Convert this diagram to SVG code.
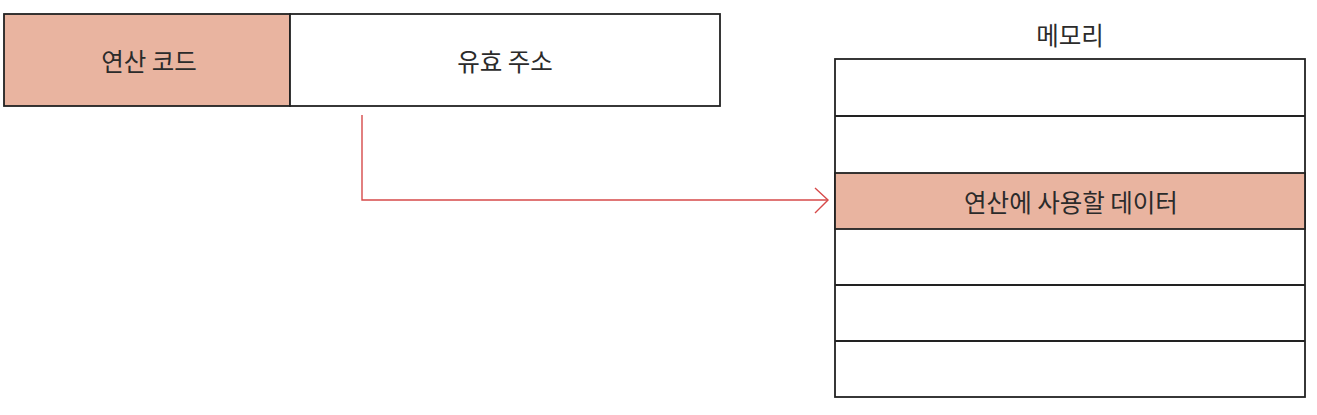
<svg xmlns="http://www.w3.org/2000/svg" width="1317" height="415" viewBox="0 0 1317 415">
<style>
.box{fill:#ffffff;stroke:#222222;stroke-width:1.8}
.hl{fill:#e9b4a0;stroke:#222222;stroke-width:1.8}
.line{stroke:#222222;stroke-width:1.8;fill:none}
.lbl{font-family:"Noto Sans CJK KR","Noto Sans",sans-serif;font-size:24.5px;fill:#2b2b2b;text-anchor:middle;dominant-baseline:central}
.conn{stroke:#d64a4a;stroke-width:1.4;fill:none}
</style>
<rect width="1317" height="415" fill="#ffffff"/>
<g id="instruction">
  <g id="opcode">
    <rect class="hl" x="4" y="14" width="286" height="92"/>
    <text class="lbl" x="149" y="60">연산 코드</text>
  </g>
  <g id="effective-address">
    <rect class="box" x="290" y="14" width="430" height="92"/>
    <text class="lbl" x="505" y="60">유효 주소</text>
  </g>
</g>
<g id="memory">
  <text class="lbl" x="1070" y="34">메모리</text>
  <rect class="box" x="835" y="59" width="470" height="338"/>
  <g id="memory-data">
    <rect class="hl" x="835" y="173" width="470" height="56"/>
    <text class="lbl" x="1071" y="201">연산에 사용할 데이터</text>
  </g>
  <line class="line" x1="835" y1="116" x2="1305" y2="116"/>
  <line class="line" x1="835" y1="285" x2="1305" y2="285"/>
  <line class="line" x1="835" y1="341" x2="1305" y2="341"/>
</g>
<g id="connectors">
  <polyline class="conn" points="362,115 362,200 828,200"/>
  <polyline class="conn" points="815,188 828,200 815,213"/>
</g>
</svg>
